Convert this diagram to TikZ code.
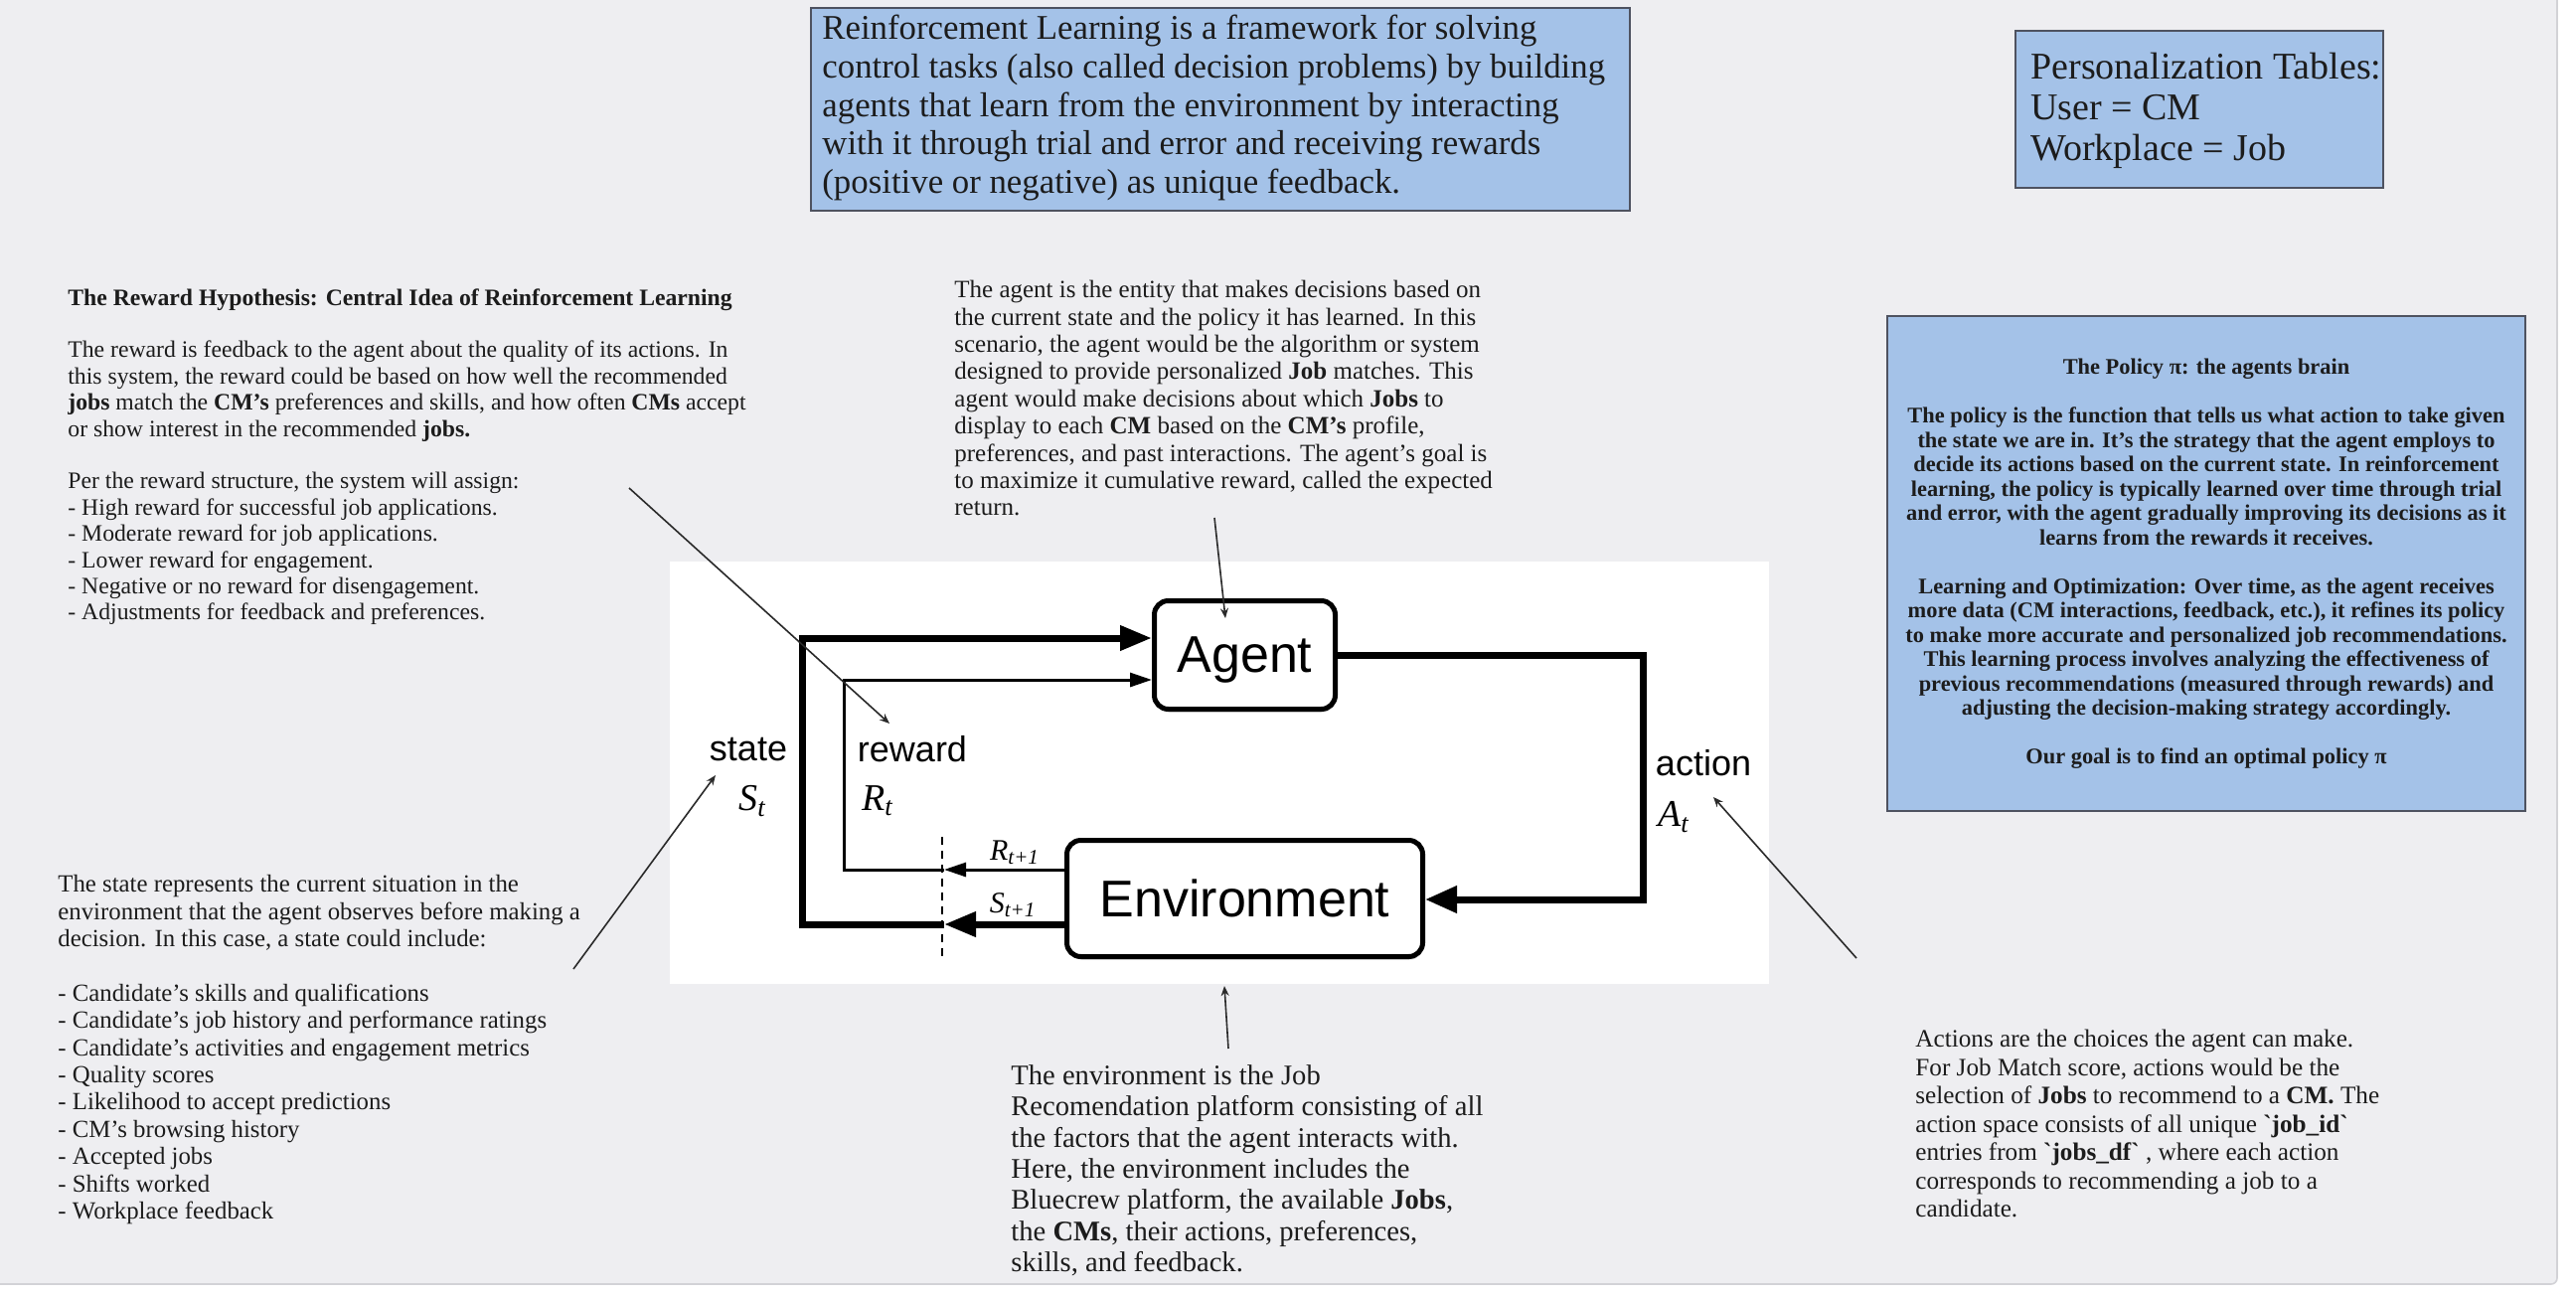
\documentclass[tikz,border=0pt]{standalone}
\usepackage{fontspec}
\setmainfont{Liberation Serif}
\newfontfamily\sansf{Liberation Sans}
\usetikzlibrary{arrows.meta,shadows}

\definecolor{canvas}{HTML}{EEEEF1}
\definecolor{canvasedge}{HTML}{D2D2D6}
\definecolor{boxblue}{HTML}{A4C2E8}
\definecolor{boxedge}{HTML}{4E5260}
\definecolor{txt}{HTML}{1C1C1C}
\definecolor{ptr}{HTML}{2A2A2A}

\tikzset{
  bluebox/.style={draw=boxedge, fill=boxblue, line width=1pt, inner sep=0pt},
  para/.style={anchor=north west, inner sep=0pt, align=left, text=txt},
  rlbox/.style={draw=black, fill=white, line width=2.5pt, rounded corners=7pt, inner sep=0pt,
    text depth=0pt, font=\sansf\fontsize{26}{30}\selectfont,
    drop shadow={shadow xshift=0.6pt, shadow yshift=-1.5pt, opacity=0.35}},
  lbl/.style={inner sep=0pt, font=\sansf\fontsize{18}{21}\selectfont},
  symlbl/.style={inner sep=0pt, font=\fontsize{19}{22}\selectfont\itshape},
  symsm/.style={inner sep=0pt, font=\fontsize{15}{18}\selectfont\itshape},
  heavy/.style={line width=3.5pt, draw=black},
  light/.style={line width=1.5pt, draw=black},
  cutline/.style={line width=0.75pt, dash pattern=on 4pt off 3pt},
  pointer/.style={line width=0.8pt, draw=ptr, -{Stealth[length=5pt,width=4pt]}},
  bigtip/.style={-{Triangle[length=16pt,width=12pt]}},
  smalltip/.style={-{Triangle[length=11pt,width=7pt]}},
}

\begin{document}
\begin{tikzpicture}[x=0.5pt,y=-0.5pt]
\useasboundingbox (0,0) rectangle (2592,1306);
\fill[white] (0,0) rectangle (2592,1306);
\draw[canvasedge, fill=canvas, rounded corners=3pt, line width=0.8pt] (-20,-20) rectangle (2573,1292);

% ---------- top definition box ----------
\node[bluebox, minimum width=412pt, minimum height=102pt] (defbox) at (1228,110) {};
\node[para, font=\fontsize{17.4}{19.3}\selectfont] (deftext) at (827,15)
{Reinforcement Learning is a framework for solving\\
control tasks (also called decision problems) by building\\
agents that learn from the environment by interacting\\
with it through trial and error and receiving rewards\\
(positive or negative) as unique feedback.};

% ---------- personalization box ----------
\node[bluebox, minimum width=185pt, minimum height=79pt] (persbox) at (2213,110) {};
\node[para, font=\fontsize{19}{20.4}\selectfont] (perstext) at (2043,53)
{Personalization Tables:\\
User = CM\\
Workplace = Job};

% ---------- policy box ----------
\node[bluebox, minimum width=321pt, minimum height=249pt] (polbox) at (2220,567) {};
\node[anchor=north, inner sep=0pt, align=center, text=txt, font=\bfseries\fontsize{11.2}{12.25}\selectfont] (poltext) at (2220,361)
{The Policy π: the agents brain\\[12.25pt]
The policy is the function that tells us what action to take given\\
the state we are in. It's the strategy that the agent employs to\\
decide its actions based on the current state. In reinforcement\\
learning, the policy is typically learned over time through trial\\
and error, with the agent gradually improving its decisions as it\\
learns from the rewards it receives.\\[12.25pt]
Learning and Optimization: Over time, as the agent receives\\
more data (CM interactions, feedback, etc.), it refines its policy\\
to make more accurate and personalized job recommendations.\\
This learning process involves analyzing the effectiveness of\\
previous recommendations (measured through rewards) and\\
adjusting the decision-making strategy accordingly.\\[12.25pt]
Our goal is to find an optimal policy π};

% ---------- reward text ----------
\node[para, font=\fontsize{11.85}{13.2}\selectfont] (rewtext) at (68,290)
{\textbf{The Reward Hypothesis: Central Idea of Reinforcement Learning}\\[13.2pt]
The reward is feedback to the agent about the quality of its actions. In\\
this system, the reward could be based on how well the recommended\\
\textbf{jobs} match the \textbf{CM's} preferences and skills, and how often \textbf{CMs} accept\\
or show interest in the recommended \textbf{jobs.}\\[13.2pt]
Per the reward structure, the system will assign:\\
- High reward for successful job applications.\\
- Moderate reward for job applications.\\
- Lower reward for engagement.\\
- Negative or no reward for disengagement.\\
- Adjustments for feedback and preferences.};

% ---------- agent text ----------
\node[para, font=\fontsize{12.5}{13.7}\selectfont] (agtext) at (960,282)
{The agent is the entity that makes decisions based on\\
the current state and the policy it has learned. In this\\
scenario, the agent would be the algorithm or system\\
designed to provide personalized \textbf{Job} matches. This\\
agent would make decisions about which \textbf{Jobs} to\\
display to each \textbf{CM} based on the \textbf{CM's} profile,\\
preferences, and past interactions. The agent's goal is\\
to maximize it cumulative reward, called the expected\\
return.};

% ---------- state text ----------
\node[para, font=\fontsize{12.4}{13.7}\selectfont] (sttext) at (58,880)
{The state represents the current situation in the\\
environment that the agent observes before making a\\
decision. In this case, a state could include:\\[13.7pt]
- Candidate's skills and qualifications\\
- Candidate's job history and performance ratings\\
- Candidate's activities and engagement metrics\\
- Quality scores\\
- Likelihood to accept predictions\\
- CM's browsing history\\
- Accepted jobs\\
- Shifts worked\\
- Workplace feedback};

% ---------- environment text ----------
\node[para, font=\fontsize{14.3}{15.7}\selectfont] (envtext) at (1017,1071)
{The environment is the Job\\
Recomendation platform consisting of all\\
the factors that the agent interacts with.\\
Here, the environment includes the\\
Bluecrew platform, the available \textbf{Jobs},\\
the \textbf{CMs}, their actions, preferences,\\
skills, and feedback.};

% ---------- actions text ----------
\node[para, font=\fontsize{12.6}{14.25}\selectfont] (acttext) at (1927,1036)
{Actions are the choices the agent can make.\\
For Job Match score, actions would be the\\
selection of \textbf{Jobs} to recommend to a \textbf{CM.} The\\
action space consists of all unique \textbf{\textasciigrave job\_id\textasciigrave}\\
entries from \textbf{\textasciigrave jobs\_df\textasciigrave} , where each action\\
corresponds to recommending a job to a\\
candidate.};

% ---------- RL diagram ----------
\node[fill=white, minimum width=553pt, minimum height=212.5pt, inner sep=0pt] (panel) at (1227,777.5) {};

\node[rlbox, minimum width=91pt, minimum height=54.5pt] (agent) at (1252.5,659) {Agent};
\node[rlbox, minimum width=179pt, minimum height=58.5pt] (env) at (1252.5,904) {Environment};

\coordinate (cutS) at (950,930);
\coordinate (cutR) at (950,875);
\coordinate (sTop) at (807,642);
\coordinate (rTop) at (849,684);
\coordinate (aBot) at (1653,905);
\coordinate (dashTop) at (948,842);
\coordinate (dashBot) at (948,967);

\draw[heavy, bigtip] (env.west |- cutS) -- (cutS);
\draw[heavy, bigtip] (cutS) -| (sTop) -- (sTop -| agent.west);
\draw[light, smalltip] (env.west |- cutR) -- (cutR);
\draw[light, smalltip] (cutR) -| (rTop) -- (rTop -| agent.west);
\draw[heavy, -{Triangle[length=16pt,width=13pt]}] (agent.east) -| (aBot) -- (aBot -| env.east);
\draw[cutline] (dashTop) -- (dashBot);

\node[lbl] (statelbl) at (753,754) {state};
\node[symlbl] (stlbl) at (757,806) {S\textsubscript{t}};
\node[lbl] (rewardlbl) at (918,754) {reward};
\node[symlbl] (rtlbl) at (883,806) {R\textsubscript{t}};
\node[lbl] (actionlbl) at (1714,768) {action};
\node[symlbl] (atlbl) at (1684,822) {A\textsubscript{t}};
\node[symsm] (r1lbl) at (1021,858) {R\textsubscript{t+1}};
\node[symsm] (s1lbl) at (1019,911) {S\textsubscript{t+1}};

% ---------- pointers ----------
\coordinate (pRewA) at (633,491);
\coordinate (pRewB) at (895,728);
\coordinate (pAgA) at (1222,521);
\coordinate (pAgB) at (1233,622);
\coordinate (pStA) at (577,975);
\coordinate (pStB) at (720,780);
\coordinate (pEnA) at (1236,1055);
\coordinate (pEnB) at (1232,992);
\coordinate (pAcA) at (1868,964);
\coordinate (pAcB) at (1724,802);
\draw[pointer] (pRewA) -- (pRewB);
\draw[pointer] (pAgA) -- (pAgB);
\draw[pointer] (pStA) -- (pStB);
\draw[pointer] (pEnA) -- (pEnB);
\draw[pointer] (pAcA) -- (pAcB);
\end{tikzpicture}
\end{document}
